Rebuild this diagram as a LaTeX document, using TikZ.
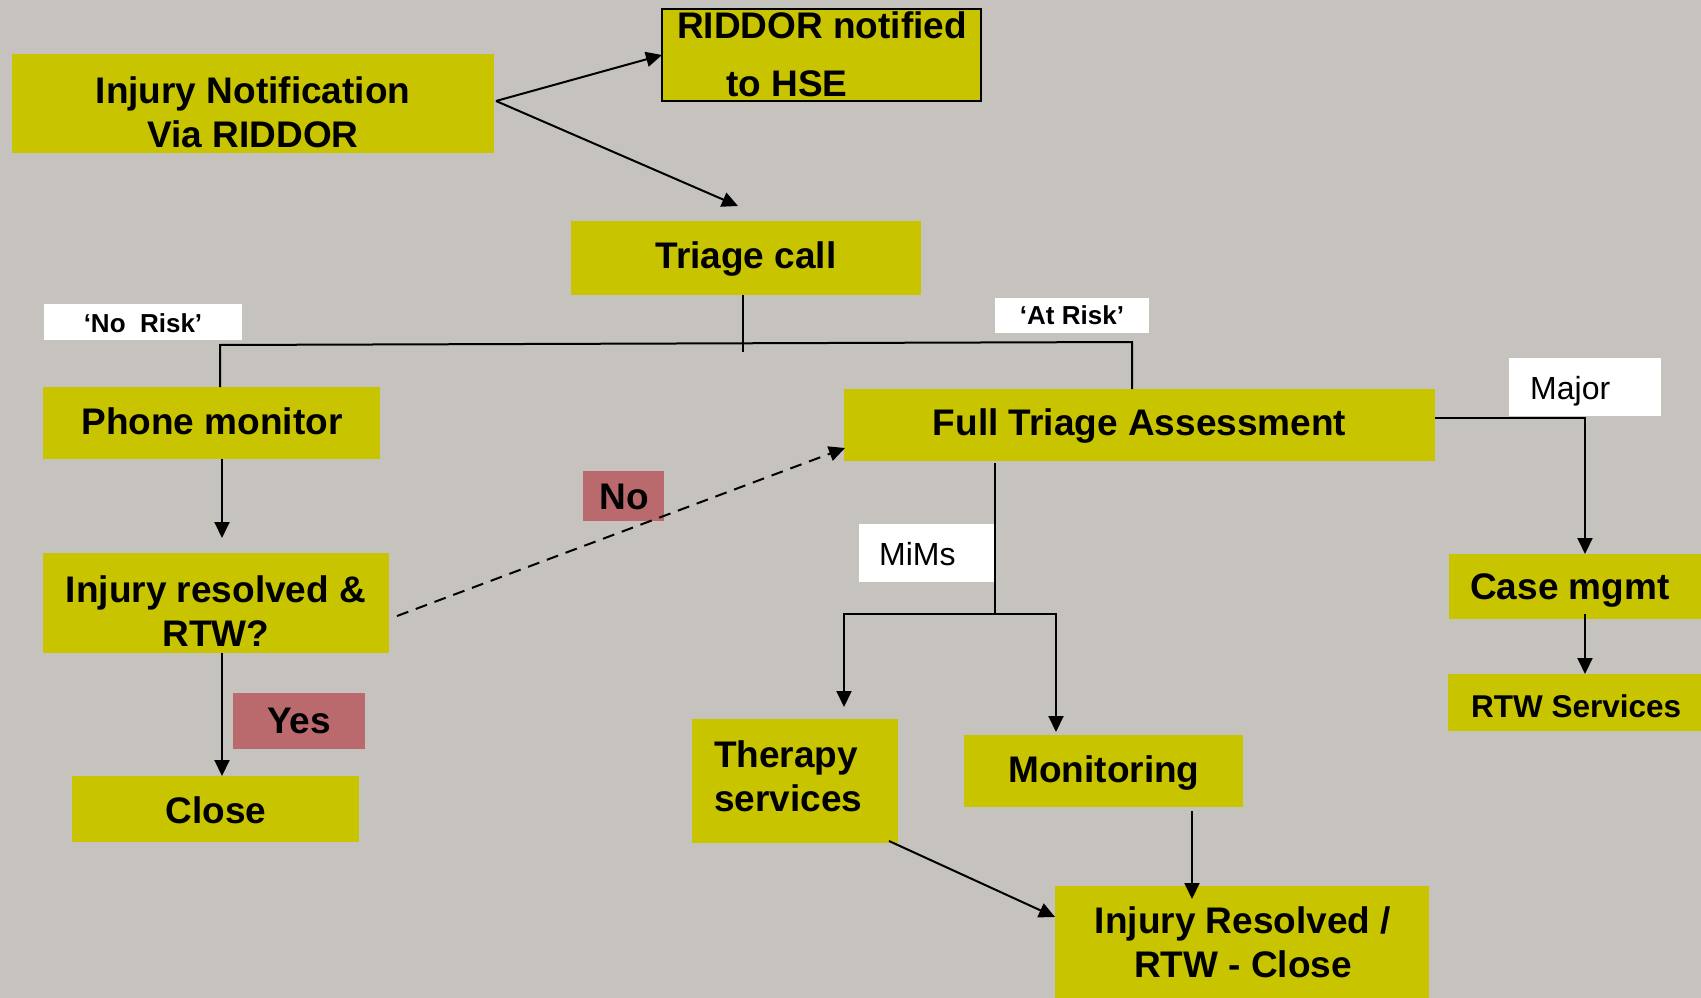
\documentclass[tikz,border=0pt]{standalone}
\usepackage{fontspec}
\setmainfont{Liberation Sans}
\usetikzlibrary{arrows.meta,calc}
\definecolor{bg}{RGB}{198,195,190}
\definecolor{olive}{RGB}{200,196,0}
\definecolor{rose}{RGB}{186,106,108}
\tikzset{
  box/.style={fill=olive, inner sep=0pt, outer sep=0pt, anchor=north west},
  wbox/.style={fill=white, inner sep=0pt, outer sep=0pt, anchor=north west},
  rbox/.style={fill=rose, inner sep=0pt, outer sep=0pt, anchor=north west},
  big/.style={font=\fontsize{37}{44}\selectfont\bfseries, inner sep=0pt, anchor=base},
  bigw/.style={big, anchor=base west},
  lab/.style={font=\fontsize{26}{30}\selectfont\bfseries, inner sep=0pt, anchor=base},
  reg/.style={font=\fontsize{32}{36}\selectfont, inner sep=0pt, anchor=base west},
  ln/.style={line width=2pt, draw=black},
  arr/.style={ln, -{Triangle[length=16pt,width=15pt]}},
}
\begin{document}
\begin{tikzpicture}[x=1pt,y=-1pt]
\fill[bg] (0,0) rectangle (1701,998);
\useasboundingbox (0,0) rectangle (1701,998);

% boxes
\node[box, minimum width=482pt, minimum height=99pt] (inj) at (12,54) {};
\node[box, draw=black, line width=2pt, minimum width=319pt, minimum height=92pt] (ridd) at (662,9) {};
\node[box, minimum width=350pt, minimum height=74pt] (tri) at (571,221) {};
\node[wbox, minimum width=198pt, minimum height=36pt] (norisk) at (44,304) {};
\node[wbox, minimum width=154pt, minimum height=35pt] (atrisk) at (995,298) {};
\node[box, minimum width=337pt, minimum height=72pt] (phone) at (43,387) {};
\node[box, minimum width=591pt, minimum height=72pt] (fta) at (844,389) {};
\node[wbox, minimum width=152pt, minimum height=58pt] (major) at (1509,358) {};
\node[box, minimum width=346pt, minimum height=100pt] (resq) at (43,553) {};
\node[rbox, minimum width=81pt, minimum height=50pt] (no) at (583,471) {};
\node[wbox, minimum width=135pt, minimum height=58pt] (mims) at (859,524) {};
\node[box, minimum width=252pt, minimum height=65pt] (case) at (1449,554) {};
\node[box, minimum width=253pt, minimum height=57pt] (rtw) at (1448,674) {};
\node[rbox, minimum width=132pt, minimum height=56pt] (yes) at (233,693) {};
\node[box, minimum width=287pt, minimum height=66pt] (close) at (72,776) {};
\node[box, minimum width=206pt, minimum height=124pt] (ther) at (692,719) {};
\node[box, minimum width=279pt, minimum height=72pt] (mon) at (964,735) {};
\node[box, minimum width=374pt, minimum height=112pt] (injres) at (1055,886) {};

% texts
\node[big] (inj-t1) at (253,103) {Injury Notification};
\node[big] (inj-t2) at (253,147) {Via RIDDOR};
\node[bigw] (ridd-t1) at (677,39) {RIDDOR notified};
\node[bigw] (ridd-t2) at (726,96) {to HSE};
\node[big] (tri-t) at (746,268) {Triage call};
\node[lab] (norisk-t) at (143,332) {‘No\ \ Risk’};
\node[lab] (atrisk-t) at (1072,324) {‘At Risk’};
\node[big] (phone-t) at (212,434) {Phone monitor};
\node[big] (fta-t) at (1139.5,435) {Full Triage Assessment};
\node[reg] (major-t) at (1530,399) {Major};
\node[big] (resq-t1) at (216,602) {Injury resolved \&};
\node[big] (resq-t2) at (216,646) {RTW?};
\node[big] (no-t) at (624,509) {No};
\node[reg] (mims-t) at (879,565) {MiMs};
\node[bigw] (case-t) at (1470,599) {Case mgmt};
\node[bigw, font=\fontsize{31.5}{36}\selectfont\bfseries] (rtw-t) at (1471,717) {RTW Services};
\node[big] (yes-t) at (299,733) {Yes};
\node[big] (close-t) at (216,823) {Close};
\node[bigw] (ther-t1) at (714,767) {Therapy};
\node[bigw] (ther-t2) at (714,811) {services};
\node[big] (mon-t) at (1104,782) {Monitoring};
\node[big] (injres-t1) at (1243,933) {Injury Resolved /};
\node[big] (injres-t2) at (1243,977) {RTW - Close};

% junction coordinates
\coordinate (src) at (496,101);
\coordinate (tj) at (743,352);
\coordinate (jl) at (220,345);
\coordinate (jr) at (1132,342);
\coordinate (lx) at (222,0);
\coordinate (mj) at (1585,418);
\coordinate (mm) at (995,614);
\coordinate (ml) at (844,614);
\coordinate (mr) at (1056,614);
\coordinate (mx) at (1192,811);

% connectors
\draw[arr] (src) -- (ridd.west);
\draw[arr] (src) -- ($(tri.north)+(-8,-15)$);
\draw[ln] (tj |- tri.south) -- (tj);
\draw[ln] (jl |- phone.north) -- (jl) -- (jr) -- (jr |- fta.north);
\draw[arr] (lx |- phone.south) -- ($(lx |- resq.north)+(0,-15)$);
\draw[arr] (lx |- resq.south) -- (lx |- close.north);
\draw[arr, dash pattern=on 12pt off 8pt] ($(resq.east)+(8,13)$) -- ($(fta.west)+(1,23)$);
\draw[arr] (fta.east |- mj) -- (mj) -- (mj |- case.north);
\draw[arr] ($(mj |- case.south)+(0,-5)$) -- (mj |- rtw.north);
\draw[ln] ($(mm |- fta.south)+(0,2)$) -- (mm);
\draw[arr] (mm) -- (ml) -- ($(ml |- ther.north)+(0,-12)$);
\draw[arr] (mm) -- (mr) -- ($(mr |- mon.north)+(0,-3)$);
\draw[arr] ($(ther.south east)+(-9,-2)$) -- ($(injres.north west)+(0,31)$);
\draw[arr] (mx) -- ($(mx |- injres.north)+(0,13)$);
\end{tikzpicture}
\end{document}
